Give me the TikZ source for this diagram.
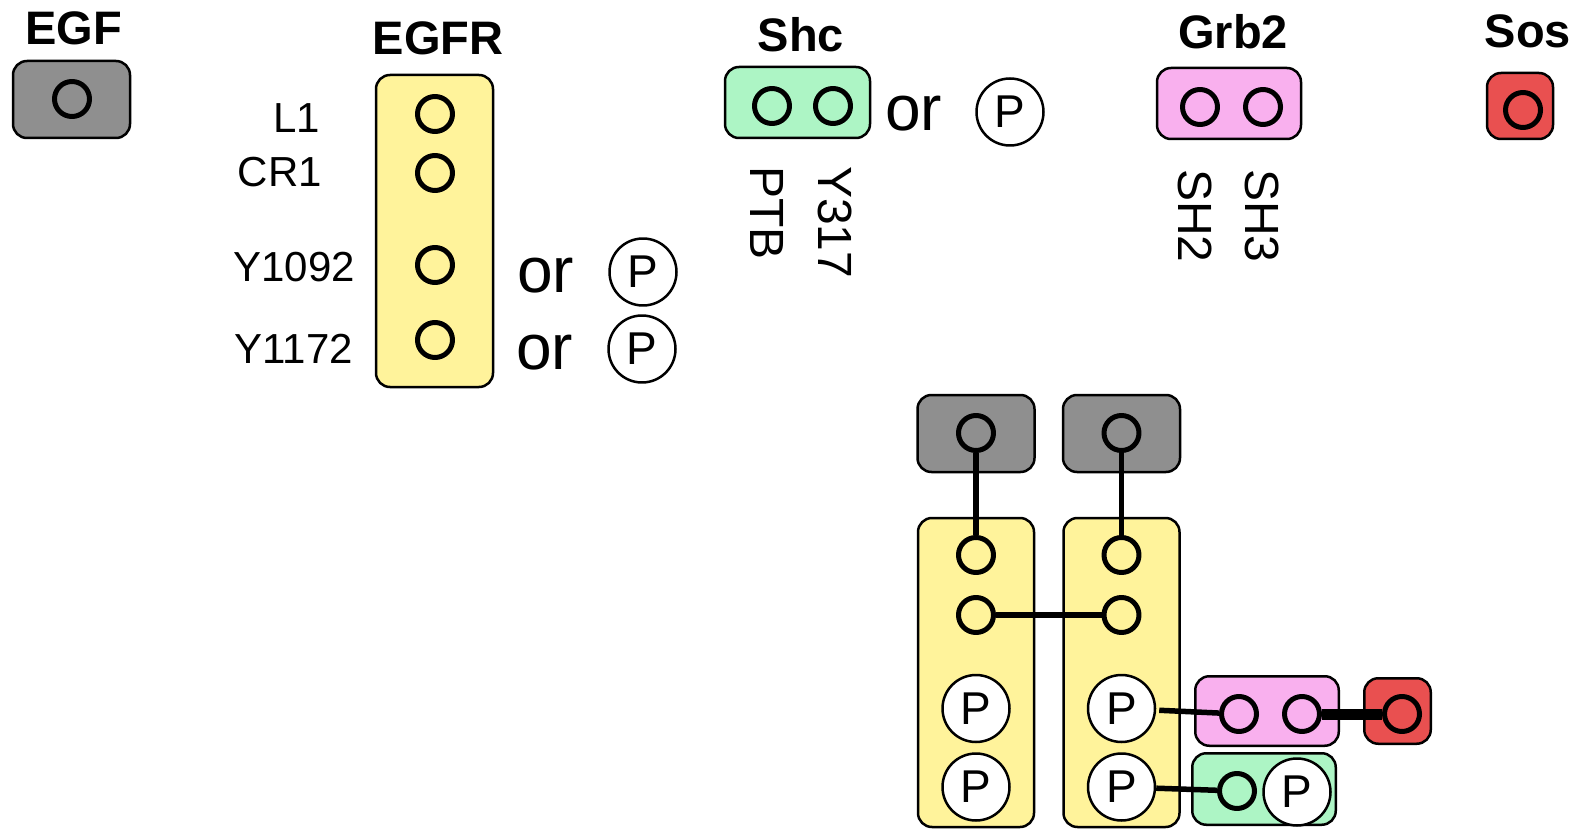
\documentclass[tikz,border=0pt]{standalone}
\usepackage{fontspec}
\setmainfont{Liberation Sans}
\definecolor{egfgray}{RGB}{143,143,143}
\definecolor{egfryellow}{RGB}{255,243,155}
\definecolor{shcgreen}{RGB}{173,245,197}
\definecolor{grbpink}{RGB}{249,176,238}
\definecolor{sosred}{RGB}{233,80,80}
\newcommand{\molsize}[1]{\fontsize{#1}{#1}\selectfont}
\begin{document}
\begin{tikzpicture}[x=1pt, y=-1pt, line join=round,
	mol/.style={draw, line width=2.5pt, rounded corners=14pt, inner sep=0},
	site/.style={circle, draw, line width=5pt, minimum size=35pt, inner sep=0},
	phos/.style={circle, draw, fill=white, line width=2.5pt, minimum size=67pt,
		inner sep=0, font=\molsize{46}},
	title/.style={anchor=base, inner sep=0, font=\bfseries\molsize{47}},
	lbl/.style={inner sep=0, font=\molsize{42}},
	vlbl/.style={anchor=west, rotate=-90, inner sep=0, font=\molsize{48}},
	orr/.style={anchor=base west, inner sep=0, font=\molsize{64}},
	bond/.style={line width=5.5pt}]
	\useasboundingbox (0,0) rectangle (1575,829);

	% free molecules
	\node[title] (t-egf) at (73.5,45) {EGF};
	\node[mol, fill=egfgray, minimum width=117pt, minimum height=77pt] (egf) at (71.5,99.5) {};
	\node[site] (egf-s) at (72,99) {};

	\node[title] (t-egfr) at (438,55) {EGFR};
	\node[mol, fill=egfryellow, minimum width=117pt, minimum height=312pt] (egfr) at (434.5,231) {};
	\foreach \s/\y in {l1/114, cr1/173, y1092/265, y1172/340}
		\node[site] (egfr-\s) at (435,\y) {};
	\node[lbl, anchor=base east] (lab-l1) at (320,133) {L1};
	\node[lbl, anchor=base east] (lab-cr1) at (322,187) {CR1};
	\node[lbl, anchor=base east] (lab-y1092) at (355,282) {Y1092};
	\node[lbl, anchor=base east] (lab-y1172) at (353,363) {Y1172};
	\node[orr] (or-y1092) at (517,292) {or};
	\node[phos] (p-y1092) at (643,272) {P};
	\node[orr] (or-y1172) at (516,369) {or};
	\node[phos] (p-y1172) at (642,349) {P};

	\node[title] (t-shc) at (801,52) {Shc};
	\node[mol, fill=shcgreen, minimum width=145pt, minimum height=71pt] (shc) at (797.5,102.5) {};
	\node[site] (shc-ptb) at (772,106) {};
	\node[site] (shc-y317) at (833,106) {};
	\node[vlbl] (lab-ptb) at (767,166) {PTB};
	\node[vlbl] (lab-y317) at (835,166) {Y317};
	\node[orr] (or-y317) at (885,131) {or};
	\node[phos] (p-y317) at (1010,112) {P};

	\node[title] (t-grb2) at (1233,49) {Grb2};
	\node[mol, fill=grbpink, minimum width=144pt, minimum height=71pt] (grb2) at (1229,103.5) {};
	\node[site] (grb2-sh2) at (1200,107) {};
	\node[site] (grb2-sh3) at (1263,107) {};
	\node[vlbl] (lab-sh2) at (1195,169) {SH2};
	\node[vlbl] (lab-sh3) at (1262,169) {SH3};

	\node[title] (t-sos) at (1528,48) {Sos};
	\node[mol, fill=sosred, minimum width=66pt, minimum height=66pt] (sos) at (1520,106) {};
	\node[site] (sos-s) at (1523,110) {};

	% the assembled complex
	\foreach \c/\x in {a/976, b/1121.5} {
		\node[mol, fill=egfgray, minimum width=117pt, minimum height=77pt] (egf\c) at (\x,433.5) {};
		\node[site] (egf\c-s) at (\x,433) {};
		\node[mol, fill=egfryellow, minimum width=116pt, minimum height=309pt] (egfr\c) at (\x,672.5) {};
		\node[site] (egfr\c-l1) at (\x,555) {};
		\node[site] (egfr\c-cr1) at (\x,615) {};
		\node[phos] (egfr\c-p1) at (\x,708.5) {P};
		\node[phos] (egfr\c-p2) at (\x,787) {P};
	}
	\node[mol, fill=grbpink, minimum width=143.5pt, minimum height=69.5pt] (grb2c) at (1267,711) {};
	\node[site] (grb2c-sh2) at (1239,714) {};
	\node[site] (grb2c-sh3) at (1302,714) {};
	\node[mol, fill=sosred, minimum width=66.5pt, minimum height=65.5pt] (sosc) at (1397.5,711) {};
	\node[site] (sosc-s) at (1402,714) {};
	\node[mol, fill=shcgreen, minimum width=143.5pt, minimum height=71.5pt] (shcc) at (1264,789) {};
	\node[site] (shcc-ptb) at (1237,791) {};
	\node[phos] (shcc-p) at (1297,792) {P};

	\draw[bond] (egfa-s) -- (egfra-l1);
	\draw[bond] (egfb-s) -- (egfrb-l1);
	\draw[bond] (egfra-cr1) -- (egfrb-cr1);
	\draw[bond, shorten <=3pt] (egfrb-p1) -- (grb2c-sh2);
	\draw[bond, line width=11pt] (grb2c-sh3) -- (sosc-s);
	\draw[bond] (egfrb-p2) -- (shcc-ptb);
\end{tikzpicture}
\end{document}
